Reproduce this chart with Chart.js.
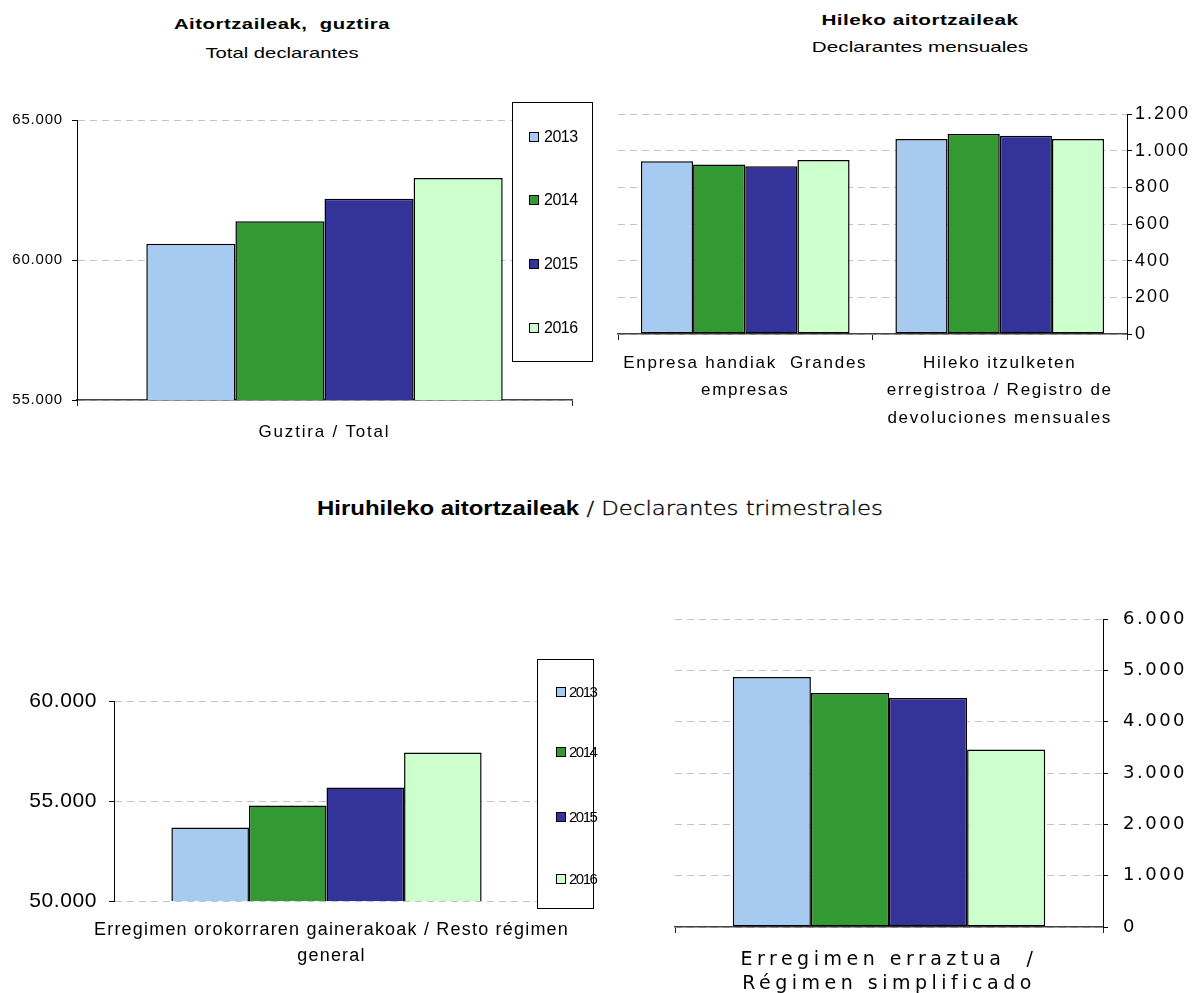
<!DOCTYPE html>
<html>
<head>
<meta charset="utf-8">
<script src="https://cdn.jsdelivr.net/npm/chart.js@4.4.1/dist/chart.umd.min.js"></script>
<style>
  html,body{margin:0;padding:0;background:#fff;}
  #wrap{position:relative;width:1200px;height:993px;background:#fff;overflow:hidden;}
  canvas{position:absolute;}
  .t{position:absolute;text-align:center;font-family:"Liberation Sans",Arial,sans-serif;color:#000;white-space:nowrap;}
</style>
</head>
<body>
<div id="wrap">
  <div class="t" style="left:132px;top:9px;width:300px;font-size:15px;line-height:29px;transform:scaleX(1.35);">
    <b style="letter-spacing:0.4px">Aitortzaileak,&nbsp; guztira</b><br>Total declarantes
  </div>
  <div class="t" style="left:770px;top:6px;width:300px;font-size:15px;line-height:27px;transform:scaleX(1.38);">
    <b style="letter-spacing:0.35px">Hileko aitortzaileak</b><br>Declarantes mensuales
  </div>
  <div class="t" style="left:0;top:495px;width:1200px;font-size:21px;line-height:26px;transform:scaleX(1.14);">
    <b>Hiruhileko aitortzaileak</b><span style="font-family:'DejaVu Sans',sans-serif;font-weight:200;font-size:20px;color:#000;-webkit-text-stroke:0.35px #000"> / Declarantes trimestrales</span>
  </div>
  <canvas id="c1" width="600" height="360" style="left:0;top:90px"></canvas>
  <canvas id="c2" width="600" height="350" style="left:600px;top:90px"></canvas>
  <canvas id="c3" width="600" height="403" style="left:0;top:590px"></canvas>
  <canvas id="c4" width="600" height="403" style="left:600px;top:590px"></canvas>
</div>
<script>
// ---- data ----
const years = ['2013', '2014', '2015', '2016'];
const yearColors = ['#A6CAF0', '#339933', '#333399', '#CCFFCC'];

const totalCats = ['Guztira / Total'];
const totalByYear = [60580, 61380, 62190, 62930];
const totalTicks = { min: 55000, max: 65000, step: 5000 };

const monthlyCats = [
  ['Enpresa handiak  Grandes', 'empresas'],
  ['Hileko itzulketen', 'erregistroa / Registro de', 'devoluciones mensuales']
];
const monthly2013 = [942, 1064];
const monthly2014 = [924, 1091];
const monthly2015 = [915, 1082];
const monthly2016 = [949, 1064];
const monthlyTicks = { min: 0, max: 1200, step: 200 };

const restoCats = [['Erregimen orokorraren gainerakoak / Resto régimen', 'general']];
const restoByYear = [53670, 54780, 55670, 57430];
const restoTicks = { min: 50000, max: 60000, step: 5000 };

const simpleCats = [['Erregimen erraztua  /', 'Régimen simplificado']];
const simpleByYear = [4870, 4560, 4460, 3460];
const simpleTicks = { min: 0, max: 6000, step: 1000 };

// ---- helpers ----
Chart.defaults.font.family = "'Liberation Sans', Arial, sans-serif";
Chart.defaults.color = '#000';
Chart.defaults.animation = false;

function fmt(v) {
  return String(v).replace(/\B(?=(\d{3})+(?!\d))/g, '.');
}

// letter spacing for axis labels (reference text is horizontally wide)
const axisSpacing = {
  id: 'axisSpacing',
  afterLayout(chart, args, opts) {
    ['x', 'y'].forEach(k => {
      const s = chart.scales[k];
      if (!s || s.__wrapped) return;
      const orig = s.drawLabels;
      s.drawLabels = function (area) {
        const ctx = this.ctx;
        ctx.save();
        ctx.letterSpacing = (opts && opts[k]) || '0px';
        orig.call(this, area);
        ctx.restore();
      };
      s.__wrapped = true;
    });
  }
};

const boxLegend = {
  id: 'boxLegend',
  afterDraw(chart, args, o) {
    if (!o || !o.box) return;
    const ctx = chart.ctx;
    ctx.save();
    ctx.letterSpacing = o.letterSpacing || '0px';
    const b = o.box;
    ctx.fillStyle = '#fff';
    ctx.fillRect(b[0], b[1], b[2], b[3]);
    ctx.strokeStyle = '#000';
    ctx.lineWidth = 1;
    ctx.strokeRect(b[0] + 0.5, b[1] + 0.5, b[2], b[3]);
    ctx.font = o.font;
    ctx.textBaseline = 'middle';
    ctx.textAlign = 'left';
    chart.data.datasets.forEach((ds, i) => {
      const y = o.itemY[i];
      ctx.fillStyle = ds.backgroundColor;
      ctx.fillRect(o.markerX, y - o.marker / 2, o.marker, o.marker);
      ctx.strokeStyle = '#000';
      ctx.lineWidth = 1;
      ctx.strokeRect(o.markerX + 0.5, y - o.marker / 2 + 0.5, o.marker - 1, o.marker - 1);
      ctx.fillStyle = '#000';
      ctx.fillText(ds.label, o.textX, y + 1);
    });
    ctx.restore();
  }
};

function datasetsFrom(seriesList) {
  return years.map((y, i) => ({
    label: y,
    data: seriesList[i],
    backgroundColor: yearColors[i],
    borderColor: '#000',
    borderWidth: 1.5,
    borderSkipped: false,
    barPercentage: 1
  }));
}

function makeChart(id, cfg) {
  const el = document.getElementById(id);
  const yScale = {
    position: cfg.yPos,
    min: cfg.ticks.min,
    max: cfg.ticks.max,
    afterFit(s) { s.width = cfg.yWidth; },
    ticks: {
      stepSize: cfg.ticks.step,
      callback: v => fmt(v),
      font: cfg.yFont,
      padding: cfg.yPad,
      color: '#000'
    },
    grid: {
      color: '#c4c4c4',
      lineWidth: 1,
      tickLength: 5,
      tickColor: '#000',
      tickBorderDash: [],
      tickWidth: 1
    },
    border: { display: true, color: '#000', width: 1, dash: [7, 5] }
  };
  const xScale = {
    offset: true,
    afterFit(s) { s.height = cfg.xHeight; },
    ticks: {
      font: cfg.xFont,
      padding: cfg.xPad,
      labelOffset: cfg.xShift || 0,
      maxRotation: 0,
      autoSkip: false,
      color: '#000'
    },
    grid: {
      offset: true,
      drawOnChartArea: false,
      drawTicks: cfg.xTicks,
      tickLength: 6,
      tickColor: '#222',
      color: '#222'
    },
    border: { display: cfg.xBorder, color: '#444', width: 1.5 }
  };
  return new Chart(el, {
    type: 'bar',
    data: { labels: cfg.labels, datasets: cfg.datasets },
    options: {
      responsive: false,
      devicePixelRatio: 1,
      layout: { padding: cfg.padding },
      datasets: { bar: { categoryPercentage: cfg.catPct } },
      scales: { x: xScale, y: yScale },
      plugins: {
        legend: { display: false },
        tooltip: { enabled: false },
        title: { display: false },
        axisSpacing: cfg.spacing,
        boxLegend: cfg.legend || {}
      }
    },
    plugins: [axisSpacing, boxLegend]
  });
}

// Chart 1: total declarantes
makeChart('c1', {
  labels: totalCats,
  datasets: datasetsFrom(totalByYear.map(v => [v])),
  ticks: totalTicks,
  yPos: 'left', yWidth: 77, yPad: 9,
  yFont: { size: 15 },
  xFont: { size: 17, lineHeight: 1.2 }, xPad: 16, xHeight: 50, xTicks: true, xBorder: true,
  padding: { left: 0, right: 28, top: 30, bottom: 0 },
  catPct: 0.72,
  spacing: { x: '1.8px', y: '0.8px' },
  legend: {
    box: [512, 12, 80, 259], itemY: [47, 110, 174, 238],
    markerX: 529, textX: 544, marker: 10, font: "16px 'Liberation Sans', Arial, sans-serif",
    letterSpacing: '-0.5px'
  }
});

// Chart 2: monthly
makeChart('c2', {
  labels: monthlyCats,
  datasets: datasetsFrom([monthly2013, monthly2014, monthly2015, monthly2016]),
  ticks: monthlyTicks,
  yPos: 'right', yWidth: 73, yPad: 3,
  yFont: { size: 18 },
  xFont: { size: 17, lineHeight: 1.6 }, xPad: 10, xHeight: 106, xTicks: true, xBorder: true,
  padding: { left: 18, right: 0, top: 24, bottom: 0 },
  catPct: 0.82,
  spacing: { x: '1.75px', y: '2px' }
});

// Chart 3: resto régimen general
makeChart('c3', {
  labels: restoCats,
  datasets: datasetsFrom(restoByYear.map(v => [v])),
  ticks: restoTicks,
  yPos: 'left', yWidth: 114, yPad: 12,
  yFont: { size: 21 },
  xFont: { size: 18, lineHeight: 1.45 }, xPad: 16, xHeight: 92, xTicks: false, xBorder: false, xShift: 5,
  padding: { left: 0, right: 61, top: 111, bottom: 0 },
  catPct: 0.73,
  spacing: { x: '1.2px', y: '0.6px' },
  legend: {
    box: [537, 69, 56, 249], itemY: [102, 162, 227, 289],
    markerX: 556, textX: 569, marker: 10, font: "15px 'Liberation Sans', Arial, sans-serif",
    letterSpacing: '-1.5px'
  }
});

// Chart 4: régimen simplificado
makeChart('c4', {
  labels: simpleCats,
  datasets: datasetsFrom(simpleByYear.map(v => [v])),
  ticks: simpleTicks,
  yPos: 'right', yWidth: 97, yPad: 15,
  yFont: { size: 18, family: "'DejaVu Sans', sans-serif" },
  xFont: { size: 19, lineHeight: 1.28, family: "'DejaVu Sans', sans-serif" }, xPad: 15, xHeight: 66, xTicks: true, xBorder: true,
  padding: { left: 75, right: 0, top: 29, bottom: 0 },
  catPct: 0.73,
  spacing: { x: '4.5px', y: '2.5px' }
});
</script>
</body>
</html>
